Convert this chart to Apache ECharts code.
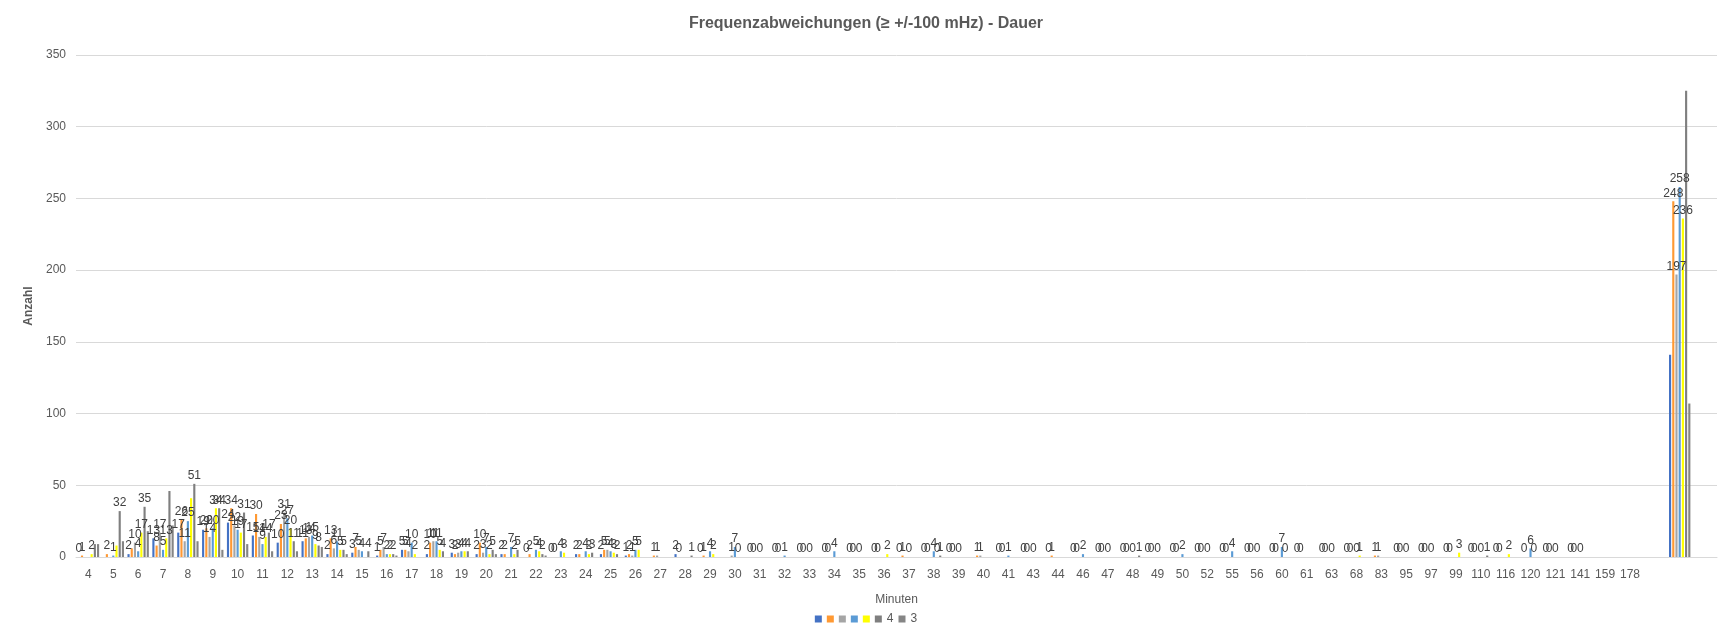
<!DOCTYPE html>
<html>
<head>
<meta charset="utf-8">
<script src="https://cdn.jsdelivr.net/npm/echarts@6/dist/echarts.min.js"></script>
<style>
  html, body { margin: 0; padding: 0; background: #fff; }
  #main { width: 1732px; height: 638px; }
</style>
</head>
<body>
<div id="main"></div>
<script>
const categories = ['4', '5', '6', '7', '8', '9', '10', '11', '12', '13', '14', '15', '16', '17', '18', '19', '20',
  '21', '22', '23', '24', '25', '26', '27', '28', '29', '30', '31', '32', '33', '34', '35', '36', '37', '38', '39',
  '40', '41', '43', '44', '46', '47', '48', '49', '50', '52', '55', '56', '60', '61', '63', '68', '83', '95', '97',
  '99', '110', '116', '120', '121', '141', '159', '178', '', '', '']

const _ = null
// Reihe 1 (blau)
const reihe1 = [0, _, 2, 13, 17, 19, 24, 15, 10, 11, 2, 3, 1, 5, 2, 3, 2, 2, 0, 0, 2, 2, 1, _, 2, 0, _, 0,
  0, 0, 0, 0, 0, 0, 0, 0, _, 0, 0, 0, 0, 0, 0, 0, 0, 0, 0, 0, 0, 0, 0, 0, _, 0, 0, 0, 0, 0, _, 0, 0, _, _, _, 141, _]
// Reihe 2 (orange)
const reihe2 = [1, 2, 6, 8, 26, 20, 34, 30, 23, 13, 13, 7, 5, 5, 10, 2, 10, 2, 2, 0, 2, 5, 2, 1, 0, 1, _, 0,
  0, 0, 0, 0, 0, 1, 0, 0, 1, 0, 0, 1, 0, 0, 0, 0, 0, 0, 0, 0, 0, 0, 0, 0, 1, 0, 0, 0, 0, 0, 0, 0, 0, _, _, _, 248, _]
// Reihe 3 (grau)
const reihe3 = [_, _, 10, 17, 11, 14, 22, 14, 31, 14, 6, 5, 7, 4, 11, 3, 3, _, _, _, _, 5, 1, 1, _, _, 1, _,
  _, _, _, _, _, _, _, _, 1, _, _, _, _, _, _, _, _, _, _, _, _, _, _, _, 1, _, _, _, _, _, _, _, _, _, _, _, 197, _]
// Reihe 4 (hellblau)
const reihe4 = [_, 1, 4, 5, 25, 20, 19, 9, 27, 15, 11, 4, 2, 10, 11, 4, 7, 7, 5, 4, 4, 4, 5, _, _, 4, 7, 0,
  1, 0, 4, 0, _, 0, 4, 0, _, 1, 0, _, 2, 0, 0, 0, 2, 0, 4, 0, 7, _, 0, 0, _, 0, 0, _, 0, _, 6, 0, 0, _, _, _, 258, _]
// Reihe 5 (gelb)
const reihe5 = [2, 8, 17, 13, 41, 34, 17, 14, 20, 9, 5, _, 2, 2, 5, 4, 2, 2, 4, 3, 2, 3, 5, _, _, 2, 0, _,
  _, _, _, _, 2, _, 0, _, _, _, _, _, _, _, _, _, _, _, _, _, 0, _, _, 1, _, _, _, 3, _, 2, 0, _, _, _, _, _, 236, _]
// Reihe "4"
const reihe6 = [9, 32, 35, 46, 51, 34, 31, 17, 11, 8, 5, 4, 2, _, 4, 4, 5, 5, 2, _, 3, 2, _, _, 1, _, _, _,
  _, _, _, _, _, _, 1, _, _, _, _, _, _, _, 1, _, _, _, _, _, _, _, _, _, _, _, _, _, 1, _, _, _, _, _, _, _, 325, _]
// Reihe "3"
const reihe7 = [9, 11, 18, 22, 11, 5, 9, 4, 4, 7, 2, _, 1, _, _, _, 2, _, 1, _, _, _, _, _, _, _, _, _,
  _, _, _, _, _, _, _, _, _, _, _, _, _, _, _, _, _, _, _, _, _, _, _, _, _, _, _, _, _, _, _, _, _, _, _, _, 107, _]

const seriesNames = ['Reihe1', 'Reihe2', 'Reihe3', 'Reihe4', 'Reihe5', '4', '3']
const seriesData = [reihe1, reihe2, reihe3, reihe4, reihe5, reihe6, reihe7]
const colors = ['#4472C4', '#FF9933', '#A5A5A5', '#5B9BD5', '#FFFF00', '#7F7F7F', '#858585']
const legendText = { Reihe1: '', Reihe2: '', Reihe3: '', Reihe4: '', Reihe5: '', '4': '4', '3': '3' }

const font = 'Liberation Sans'
// Balken ohne Datenbeschriftung im Original: [Reihe, Kategorie]
const hiddenLabels = [[0, 64], [5, 64], [5, 0], [5, 3], [4, 4], [4, 1], [1, 2]]
const isHidden = (si, i) => hiddenLabels.some(([s, d]) => s === si && d === i)

const myChart = echarts.init(document.getElementById('main'), null, { renderer: 'canvas' })

const series = seriesData.map((data, si) => ({
  name: seriesNames[si],
  type: 'bar',
  barGap: '50%',
  barCategoryGap: '14%',
  itemStyle: { color: colors[si] },
  label: {
    show: si !== 6, // Reihe "3" ohne Beschriftung
    position: 'top',
    distance: 2,
    color: '#404040',
    fontFamily: font,
    fontSize: 12
  },
  data: data.map((v, i) => isHidden(si, i) ? { value: v, label: { show: false } } : v)
}))

myChart.setOption({
  animation: false,
  color: colors,
  title: {
    text: 'Frequenzabweichungen (≥ +/-100 mHz) - Dauer',
    left: 'center',
    top: 11,
    textStyle: { fontFamily: font, fontSize: 16, fontWeight: 'bold', color: '#595959' }
  },
  legend: {
    bottom: 8,
    left: 'center',
    icon: 'rect',
    itemWidth: 7,
    itemHeight: 7,
    itemGap: 5,
    data: seriesNames,
    formatter: name => legendText[name],
    textStyle: { fontFamily: font, fontSize: 12, color: '#595959' }
  },
  grid: { left: 76, right: 15, top: 55, bottom: 81 },
  xAxis: {
    type: 'category',
    data: categories,
    name: 'Minuten',
    nameLocation: 'middle',
    nameGap: 37,
    nameTextStyle: { fontFamily: font, fontSize: 12, color: '#595959' },
    axisLine: { lineStyle: { color: '#D9D9D9' } },
    axisTick: { show: false },
    axisLabel: { interval: 0, margin: 12, fontFamily: font, fontSize: 12, color: '#595959' }
  },
  yAxis: {
    type: 'value',
    min: 0,
    max: 350,
    interval: 50,
    name: 'Anzahl',
    nameLocation: 'middle',
    nameGap: 38,
    nameTextStyle: { fontFamily: font, fontSize: 12, fontWeight: 'bold', color: '#595959' },
    axisLine: { show: false },
    axisTick: { show: false },
    axisLabel: { margin: 10, fontFamily: font, fontSize: 12, color: '#595959' },
    splitLine: { lineStyle: { color: '#D9D9D9' } }
  },
  series: series
})
</script>
</body>
</html>
